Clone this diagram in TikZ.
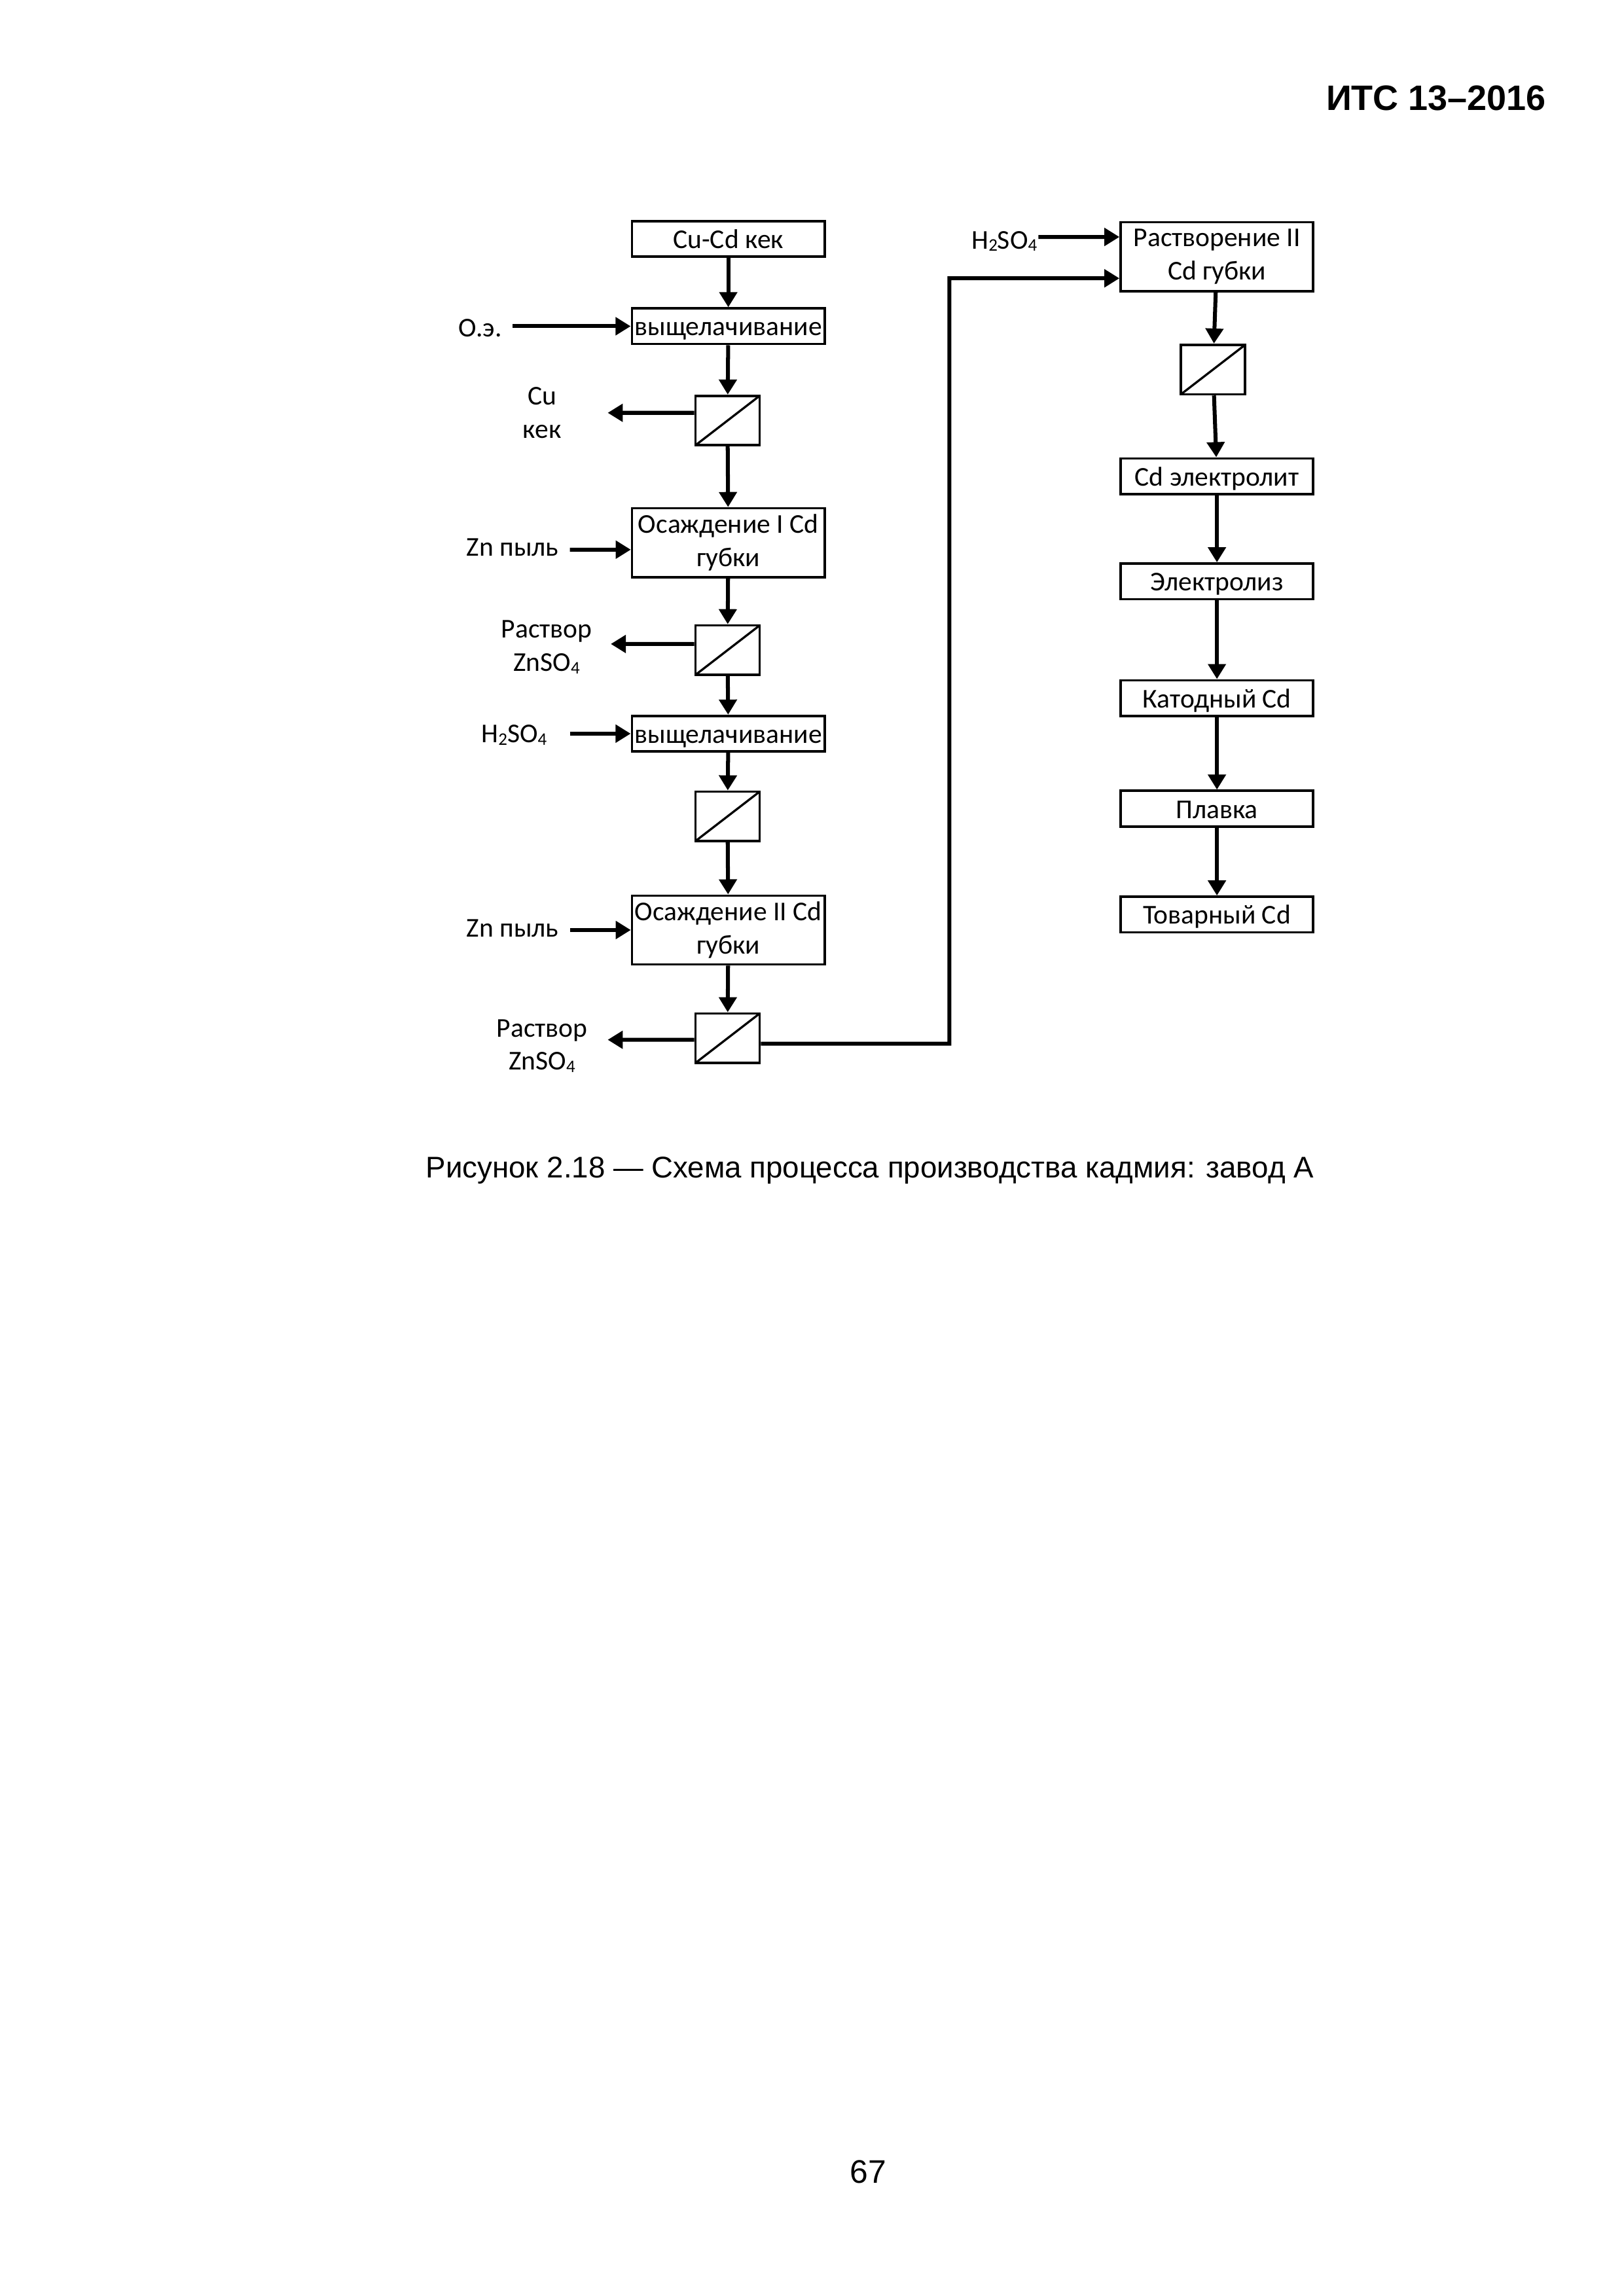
\documentclass[tikz,border=0pt]{standalone}
\usepackage{fontspec}
\setmainfont{Carlito}
\newfontfamily\arialfont{Liberation Sans}
\usetikzlibrary{arrows.meta}

\newcommand{\subidx}[1]{\raisebox{-0.2ex}{\fontsize{6.5}{7}\selectfont #1}}

\tikzset{
  frame/.style={draw, line width=0.9pt, minimum width=2.49cm,
    inner sep=1pt, align=center, font=\fontsize{10}{12.2}\selectfont},
  box/.style={frame, minimum height=0.46cm, text height=0.7em, text depth=0pt},
  tallbox/.style={frame, minimum height=0.89cm},
  filt/.style={draw, line width=0.9pt, minimum width=0.83cm, minimum height=0.64cm,
    path picture={\draw[line width=0.8pt] (path picture bounding box.south west)
      -- (path picture bounding box.north east);}},
  lbl/.style={align=center, inner sep=0pt, font=\fontsize{10}{12.2}\selectfont},
  flow/.style={line width=1.45pt, -{Triangle[length=1.95mm,width=2.25mm]}},
}

\begin{document}
\begin{tikzpicture}[scale=1]
  \useasboundingbox (0,0) rectangle (21,-29.7);

  \node[anchor=east, font=\arialfont\bfseries\fontsize{13}{15}\selectfont] (head) at (20.12,-1.27) {ИТС 13–2016};

  % left column
  \node[box] (cucd) at (9.42,-3.09) {Cu-Cd кек};
  \node[box] (leach1) at (9.42,-4.22) {выщелачивание};
  \node[filt] (filt1) at (9.41,-5.44) {};
  \node[tallbox] (prec1) at (9.42,-7.02) {Осаждение I Cd\\губки};
  \node[filt] (filt2) at (9.41,-8.41) {};
  \node[box] (leach2) at (9.42,-9.49) {выщелачивание};
  \node[filt] (filt3) at (9.41,-10.56) {};
  \node[tallbox] (prec2) at (9.42,-12.03) {Осаждение II Cd\\губки};
  \node[filt] (filt4) at (9.41,-13.43) {};

  \draw[flow] (cucd) -- (leach1);
  \draw[flow] (leach1) -- (filt1);
  \draw[flow] (filt1) -- (prec1);
  \draw[flow] (prec1) -- (filt2);
  \draw[flow] (filt2) -- (leach2);
  \draw[flow] (leach2) -- (filt3);
  \draw[flow] (filt3) -- (prec2);
  \draw[flow] (prec2) -- (filt4);

  % inputs and outputs
  \node[lbl] (oe) at (6.21,-4.24) {О.э.};
  \coordinate (oe-out) at (6.63,-4.22);
  \draw[flow] (oe-out) -- (leach1.west);

  \node[lbl] (cuk) at (7.01,-5.34) {Cu\\кек};
  \coordinate (cuk-in) at (7.86,-5.34);
  \draw[flow] ([yshift=1mm]filt1.west) -- (cuk-in);

  \node[lbl] (zn1) at (6.63,-7.08) {Zn пыль};
  \coordinate (zn1-out) at (7.37,-7.11);
  \draw[flow] (zn1-out) -- ([yshift=-0.9mm]prec1.west);

  \node[lbl] (sol1) at (7.07,-8.37) {Раствор\\ZnSO\subidx{4}};
  \coordinate (sol1-in) at (7.90,-8.33);
  \draw[flow] ([yshift=0.8mm]filt2.west) -- (sol1-in);

  \node[lbl] (acid1) at (6.65,-9.51) {H\subidx{2}SO\subidx{4}};
  \coordinate (acid1-out) at (7.37,-9.49);
  \draw[flow] (acid1-out) -- (leach2.west);

  \node[lbl] (zn2) at (6.63,-12.01) {Zn пыль};
  \coordinate (zn2-out) at (7.37,-12.03);
  \draw[flow] (zn2-out) -- (prec2.west);

  \node[lbl] (sol2) at (7.01,-13.53) {Раствор\\ZnSO\subidx{4}};
  \coordinate (sol2-in) at (7.86,-13.45);
  \draw[flow] ([yshift=-0.2mm]filt4.west) -- (sol2-in);

  % right column
  \node[tallbox] (diss) at (15.74,-3.32) {Растворение II\\Cd губки};
  \node[filt] (filt5) at (15.69,-4.78) {};
  \node[box] (elyte) at (15.74,-6.16) {Cd электролит};
  \node[box] (elys) at (15.74,-7.52) {Электролиз};
  \node[box] (cath) at (15.74,-9.03) {Катодный Cd};
  \node[box] (melt) at (15.74,-10.46) {Плавка};
  \node[box] (prod) at (15.74,-11.83) {Товарный Cd};

  \draw[flow] (diss) -- (filt5);
  \draw[flow] (filt5) -- (elyte);
  \draw[flow] (elyte) -- (elys);
  \draw[flow] (elys) -- (cath);
  \draw[flow] (cath) -- (melt);
  \draw[flow] (melt) -- (prod);

  \node[lbl] (acid2) at (12.99,-3.12) {H\subidx{2}SO\subidx{4}};
  \coordinate (acid2-out) at (13.43,-3.065);
  \draw[flow] (acid2-out) -- ([yshift=2.55mm]diss.west);

  % sponge to dissolution
  \coordinate (bend) at (12.28,-3.60);
  \draw[flow] ([yshift=-0.7mm]filt4.east) -| (bend) -- ([yshift=-2.8mm]diss.west);

  \node[font=\arialfont\fontsize{11}{13.5}\selectfont] (cap) at (11.25,-15.14) {Рисунок 2.18 — Схема процесса производства кадмия: завод А};
  \node[font=\arialfont\fontsize{12}{14}\selectfont] (page) at (11.23,-28.09) {67};
\end{tikzpicture}
\end{document}
